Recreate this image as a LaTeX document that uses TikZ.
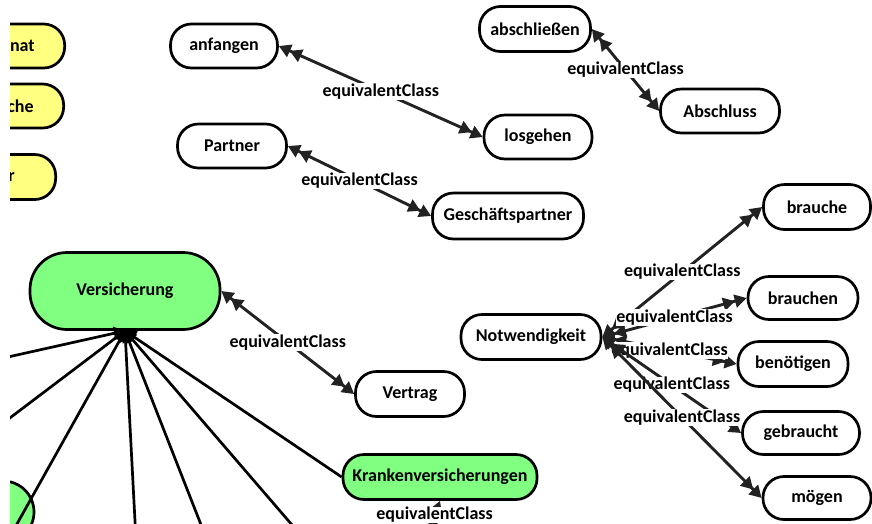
\documentclass[tikz,border=0pt]{standalone}
\usepackage{fontspec}
\setmainfont{Carlito}
\usetikzlibrary{arrows.meta}
\definecolor{nodeyellow}{RGB}{255,255,128}
\definecolor{nodegreen}{RGB}{128,255,128}
\definecolor{edgegrey}{RGB}{34,34,34}
\tikzset{
  labelfont/.style={font=\fontsize{18}{21}\selectfont\bfseries},
  term/.style={draw=black, line width=2.7pt, fill=white, rounded corners=21pt,
    minimum height=44pt, inner sep=0pt, labelfont},
  ynode/.style={term, fill=nodeyellow, anchor=east, text width=80pt, align=right},
  gnode/.style={term, fill=nodegreen},
  dtip/.tip={Triangle[length=12pt,width=13pt] Triangle[length=12pt,width=13pt]},
  eqv/.style={draw=edgegrey, line width=2.9pt, dtip-dtip},
  lbl/.style={fill=white, inner sep=0.5pt, text=black, labelfont},
  hubline/.style={draw=black, line width=2.7pt, {Triangle[length=11pt,width=13pt]}-},
}
\begin{document}
\begin{tikzpicture}[x=1pt,y=-1pt]
\useasboundingbox (0,0) rectangle (872,523);
\begin{scope}
\clip (10,0) rectangle (872,523);

% partly hidden classes on the left
\node[ynode, minimum height=44pt, inner xsep=30pt] (monat) at (66,46) {nat};
\node[ynode, minimum height=44pt, inner xsep=30pt] (woche) at (65,106) {che};
\node[ynode, minimum height=45pt, inner xsep=41pt] (yr) at (57,177) {r};
\node[draw=black, line width=2.7pt, fill=nodegreen, circle, minimum size=62pt] (gc) at (3,512) {};

% terms
\node[term, minimum width=107pt] (anf) at (224,46) {anfangen};
\node[term, minimum width=108pt] (los) at (538,137) {losgehen};
\node[term, minimum width=109pt] (par) at (232,146) {Partner};
\node[term, minimum width=151pt, minimum height=46pt] (gp) at (508,216) {Geschäftspartner};
\node[term, minimum width=111pt, minimum height=45pt] (abs) at (535,29) {abschließen};
\node[term, minimum width=119pt] (absl) at (720,111) {Abschluss};
\node[gnode, minimum width=190pt, minimum height=77pt, rounded corners=37pt] (vers) at (125,291) {Versicherung};
\node[term, minimum width=109pt, minimum height=45pt] (vert) at (410,394) {Vertrag};
\node[gnode, minimum width=194pt, minimum height=45pt] (kv) at (440,477) {Krankenversicherungen};
\node[term, minimum width=140pt, minimum height=45pt] (notw) at (531,337) {Notwendigkeit};
\node[term, minimum width=107pt, minimum height=45pt] (br1) at (817,207) {brauche};
\node[term, minimum width=110pt, minimum height=43pt] (br2) at (803,298) {brauchen};
\node[term, minimum width=110pt, minimum height=45pt] (ben) at (793,364) {benötigen};
\node[term, minimum width=117pt, minimum height=43pt] (geb) at (801,433) {gebraucht};
\node[term, minimum width=108pt, minimum height=43pt] (moe) at (817,498) {mögen};

% free ends of the links leaving the view
\coordinate (h1) at (-10,361);
\coordinate (h2) at (-10,433);
\coordinate (h3) at (8,540);
\coordinate (h4) at (136,540);
\coordinate (h5) at (207,540);
\coordinate (h6) at (305,540);
\coordinate (kvdown) at (425,540);

% links from Versicherung
\draw[hubline] (vers.south) -- (h1);
\draw[hubline] (vers.south) -- (h2);
\draw[hubline] (vers.south) -- (h3);
\draw[hubline] (vers.south) -- (h4);
\draw[hubline] (vers.south) -- (h5);
\draw[hubline] (vers.south) -- (h6);
\draw[hubline] (vers.south) -- (kv.west);

% equivalentClass links
\draw[eqv] (anf.east) -- node[lbl] {equivalentClass} (los.west);
\draw[eqv] (par.east) -- node[lbl] {equivalentClass} (gp.west);
\draw[eqv] (abs.east) -- node[lbl] {equivalentClass} (absl.west);
\draw[eqv] (vers.east) -- node[lbl] {equivalentClass} (vert.west);
\draw[eqv] (kv.south) -- node[lbl, pos=0.36] {equivalentClass} (kvdown);
\draw[eqv] (notw.east) -- node[lbl] {equivalentClass} (br1.west);
\draw[eqv] (notw.east) -- node[lbl] {equivalentClass} (br2.west);
\draw[eqv] (notw.east) -- node[lbl] {equivalentClass} (ben.west);
\draw[eqv] (notw.east) -- node[lbl] {equivalentClass} (geb.west);
\draw[eqv] (notw.east) -- node[lbl] {equivalentClass} (moe.west);
\end{scope}
\end{tikzpicture}
\end{document}
